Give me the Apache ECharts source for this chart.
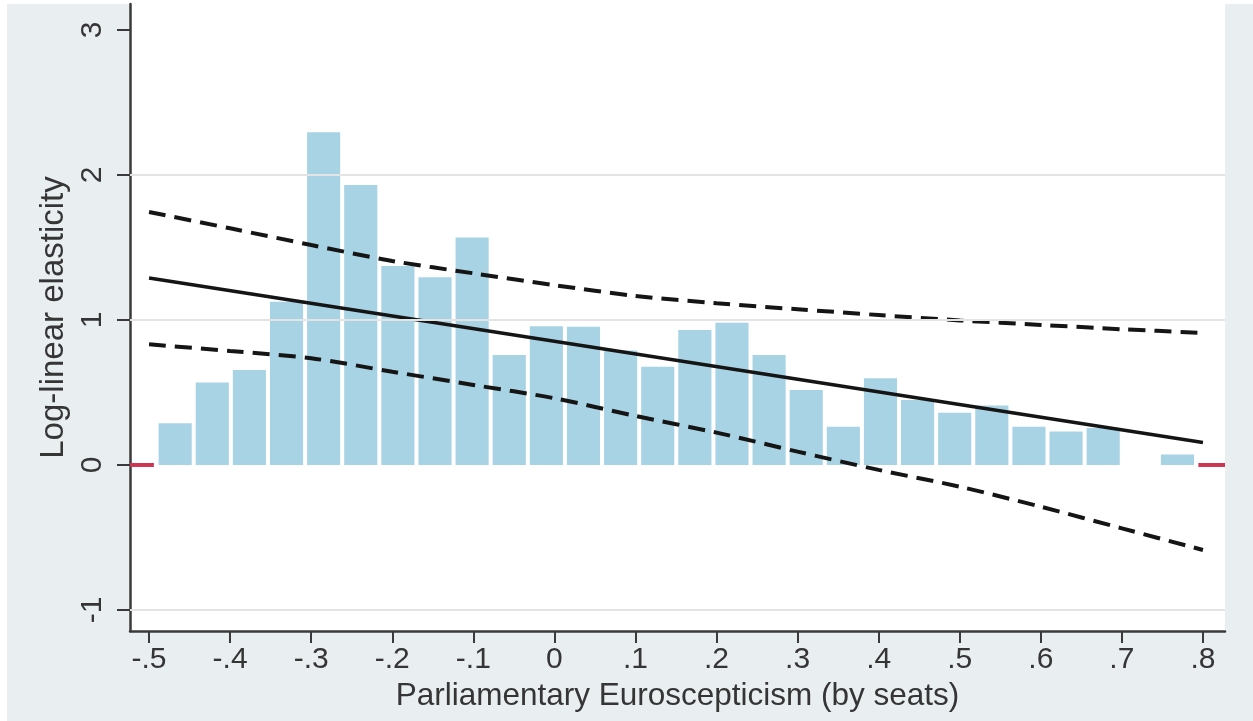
<!DOCTYPE html>
<html>
<head>
<meta charset="utf-8">
<script src="https://cdn.jsdelivr.net/npm/echarts@6/dist/echarts.min.js"></script>
<style>
html,body{margin:0;padding:0;background:#ffffff;}
#chart{width:1253px;height:721px;}
</style>
</head>
<body>
<div id="chart"></div>
<script>
// ---- data ----
const xAxisMin = -0.5235, xAxisMax = 0.8272;
const yAxisMin = -1.145, yAxisMax = 3.179;
const xTickValues = [-0.5,-0.4,-0.3,-0.2,-0.1,0,0.1,0.2,0.3,0.4,0.5,0.6,0.7,0.8];
const xTickLabels = ['-.5','-.4','-.3','-.2','-.1','0','.1','.2','.3','.4','.5','.6','.7','.8'];
const yTickValues = [-1,0,1,2,3];
const yTickLabels = ['-1','0','1','2','3'];
const yGridValues = [-1,1,2];

// histogram of the moderator (bin start, bin width, bar heights)
const binStart = -0.4907;
const binWidth = 0.04579;
const binHeights = [0.288,0.568,0.655,1.126,2.294,1.931,1.372,1.294,1.568,0.759,
                    0.957,0.954,0.79,0.678,0.931,0.981,0.759,0.517,0.264,0.598,
                    0.448,0.36,0.41,0.264,0.23,0.255,0,0.072];

// marginal effect and 95% CI
const effectLine = [[-0.5,1.29],[0.8,0.155]];
const ciX = [-0.5,-0.4,-0.3,-0.2,-0.1,0,0.1,0.2,0.3,0.4,0.5,0.6,0.7,0.8];
const ciUpper = [1.745,1.632,1.517,1.407,1.322,1.240,1.166,1.115,1.074,1.034,0.997,0.966,0.936,0.911];
const ciLower = [0.832,0.786,0.736,0.643,0.552,0.460,0.338,0.223,0.092,-0.034,-0.150,-0.288,-0.437,-0.586];

// red markers at zero outside the bins
const redLeft = [[-0.5235,0],[-0.494,0]];
const redRight = [[0.7944,0],[0.8272,0]];

// ---- chart ----
const chart = echarts.init(document.getElementById('chart'), null, {renderer:'canvas'});
const FONT = '"Liberation Sans", Arial, Helvetica, sans-serif';
const textColor = '#353535';
const axisColor = '#3a3a3a';

const barData = binHeights.map((h,i)=>[binStart + i*binWidth, binStart + (i+1)*binWidth, h]);

function lookup(vals, labels, v){
  for (let i=0;i<vals.length;i++){ if (Math.abs(vals[i]-v) < 1e-6) return labels[i]; }
  return '';
}

const option = {
  animation:false,
  backgroundColor:'transparent',
  graphic:[{
    type:'rect', z:-100, silent:true,
    shape:{x:7,y:4,width:1246,height:717},
    style:{fill:'#e9eef1'}
  }],
  grid:{left:130,top:4,right:28,bottom:90,show:true,backgroundColor:'#ffffff',borderWidth:0},
  xAxis:{
    type:'value', min:xAxisMin, max:xAxisMax,
    name:'Parliamentary Euroscepticism (by seats)',
    nameLocation:'middle', nameGap:47,
    nameTextStyle:{fontSize:31.5,color:textColor,fontFamily:FONT},
    axisLine:{show:true,onZero:false,lineStyle:{color:axisColor,width:2.5}},
    axisTick:{show:true,customValues:xTickValues,length:12,lineStyle:{color:axisColor,width:2}},
    axisLabel:{show:true,customValues:xTickValues,margin:14,fontSize:30,color:textColor,fontFamily:FONT,
      formatter:(v)=>lookup(xTickValues,xTickLabels,v)},
    splitLine:{show:false}
  },
  yAxis:{
    type:'value', min:yAxisMin, max:yAxisMax,
    name:'Log-linear elasticity',
    nameLocation:'middle', nameGap:55,
    nameTextStyle:{fontSize:33,color:textColor,fontFamily:FONT},
    axisLine:{show:true,onZero:false,lineStyle:{color:axisColor,width:2.5}},
    axisTick:{show:true,customValues:yTickValues,length:13,lineStyle:{color:axisColor,width:2}},
    axisLabel:{show:true,customValues:yTickValues,rotate:90,margin:22,fontSize:30,color:textColor,fontFamily:FONT,
      formatter:(v)=>lookup(yTickValues,yTickLabels,v)},
    splitLine:{show:false}
  },
  series:[
    {
      type:'line', data:[], z:1, silent:true,
      markLine:{
        silent:true, symbol:['none','none'], label:{show:false},
        lineStyle:{color:'#e4e4e4',width:2,type:'solid'},
        data:yGridValues.map(v=>({yAxis:v}))
      }
    },
    {
      type:'custom', z:2, silent:true,
      renderItem:(params, api)=>{
        const p0 = api.coord([api.value(0), 0]);
        const p1 = api.coord([api.value(1), api.value(2)]);
        const x = p0[0] + 2, w = p1[0] - p0[0] - 4;
        return {type:'rect', shape:{x:x, y:p1[1], width:w, height:p0[1]-p1[1]},
                style:{fill:'#a8d3e4'}};
      },
      encode:{x:[0,1], y:2},
      data:barData
    },
    {
      type:'line', z:4, silent:true, symbol:'none',
      data:effectLine,
      lineStyle:{color:'#151515',width:3.5,type:'solid'}
    },
    {
      type:'line', z:4, silent:true, symbol:'none', smooth:0.3,
      data:ciX.map((x,i)=>[x,ciUpper[i]]),
      lineStyle:{color:'#151515',width:4,type:[17,9]}
    },
    {
      type:'line', z:4, silent:true, symbol:'none', smooth:0.3,
      data:ciX.map((x,i)=>[x,ciLower[i]]),
      lineStyle:{color:'#151515',width:4,type:[17,9]}
    },
    {
      type:'line', z:5, silent:true, symbol:'none',
      data:redLeft, lineStyle:{color:'#cf3553',width:4}
    },
    {
      type:'line', z:5, silent:true, symbol:'none',
      data:redRight, lineStyle:{color:'#cf3553',width:4}
    }
  ]
};
chart.setOption(option);
</script>
</body>
</html>
